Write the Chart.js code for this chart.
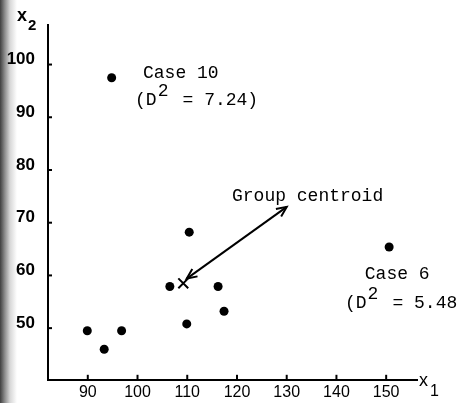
<!DOCTYPE html>
<html><head><meta charset="utf-8">
<script src="https://cdn.jsdelivr.net/npm/chart.js@4"></script>
<style>
html,body{margin:0;padding:0;background:#fff;}
#wrap{position:relative;width:460px;height:403px;
 background:linear-gradient(to right, rgba(30,30,30,0.85) 0px, rgba(70,70,70,0.6) 5px, rgba(140,140,140,0.35) 10px, rgba(255,255,255,0) 17px), #fff;}
canvas{display:block;}
</style></head><body>
<div id="wrap"><canvas id="c" width="460" height="403"></canvas></div>
<script>
// observations (x1, x2)
const x1Values = [94.8, 89.9, 93.3, 96.8, 110.4, 106.5, 116.2, 117.4, 109.9, 150.6];
const x2Values = [97.5, 49.5, 46.0, 49.5, 68.2, 57.9, 57.9, 53.2, 50.8, 65.4];
// group centroid
const centroidX1 = [109.2];
const centroidX2 = [58.5];
// double-headed arrow from centroid to label
const arrowX1 = [109.9, 130.0];
const arrowX2 = [59.4, 73.0];
// tick labels
const x1Ticks = [90, 100, 110, 120, 130, 140, 150];
const x2Ticks = [50, 60, 70, 80, 90, 100];
// annotation texts
const case10Name = 'Case 10';
const case10D2 = '7.24';
const case6Name = 'Case 6';
const case6D2 = '5.48';
const centroidLabel = 'Group centroid';

const mono = '18px "Liberation Mono", "DejaVu Sans Mono", monospace';

function drawD2(ctx, x, y, val) {
  const cw = ctx.measureText('0').width;
  ctx.fillText('(D', x, y);
  ctx.fillText('2', x + 2.1 * cw, y - 9);
  ctx.fillText(' = ' + val + ')', x + 3.4 * cw, y);
}

const decor = {
  id: 'decor',
  afterDraw(chart) {
    const ctx = chart.ctx, xs = chart.scales.x, ys = chart.scales.y;
    const a = chart.chartArea;
    ctx.save();
    ctx.strokeStyle = '#000'; ctx.fillStyle = '#000';
    ctx.lineWidth = 2;
    // tick marks (inward)
    x1Ticks.forEach(v => { const p = xs.getPixelForValue(v);
      ctx.beginPath(); ctx.moveTo(p, a.bottom); ctx.lineTo(p, a.bottom - 5); ctx.stroke(); });
    x2Ticks.forEach(v => { const p = ys.getPixelForValue(v);
      ctx.beginPath(); ctx.moveTo(a.left, p); ctx.lineTo(a.left + 4, p); ctx.stroke(); });
    // arrow heads
    const p0 = {x: xs.getPixelForValue(arrowX1[0]), y: ys.getPixelForValue(arrowX2[0])};
    const p1 = {x: xs.getPixelForValue(arrowX1[1]), y: ys.getPixelForValue(arrowX2[1])};
    const head = (tip, from) => {
      const ang = Math.atan2(tip.y - from.y, tip.x - from.x), L = 11, w = 0.42;
      ctx.beginPath();
      ctx.moveTo(tip.x - L * Math.cos(ang - w), tip.y - L * Math.sin(ang - w));
      ctx.lineTo(tip.x, tip.y);
      ctx.lineTo(tip.x - L * Math.cos(ang + w), tip.y - L * Math.sin(ang + w));
      ctx.stroke();
    };
    head(p1, p0); head(p0, p1);
    // annotations
    ctx.font = mono; ctx.textBaseline = 'alphabetic'; ctx.textAlign = 'left';
    ctx.fillText(case10Name, xs.getPixelForValue(101.1), ys.getPixelForValue(97.5));
    drawD2(ctx, xs.getPixelForValue(99.5), ys.getPixelForValue(92.3), case10D2);
    ctx.fillText(centroidLabel, xs.getPixelForValue(119.0), ys.getPixelForValue(74.2));
    ctx.fillText(case6Name, xs.getPixelForValue(145.7), ys.getPixelForValue(59.4));
    drawD2(ctx, xs.getPixelForValue(141.7), ys.getPixelForValue(53.8), case6D2);
    // axis titles
    ctx.font = 'bold 18px "Liberation Sans", Arial, sans-serif';
    ctx.fillText('x', 17, 21);
    ctx.font = 'bold 15px "Liberation Sans", Arial, sans-serif';
    ctx.fillText('2', 28, 30);
    ctx.font = '18px "Liberation Sans", Arial, sans-serif';
    ctx.fillText('x', 419, 386);
    ctx.font = '16px "Liberation Sans", Arial, sans-serif';
    ctx.fillText('1', 430, 396);
    ctx.restore();
  }
};

new Chart(document.getElementById('c'), {
  type: 'scatter',
  data: {
    datasets: [
      { label: 'cases', data: x1Values.map((v, i) => ({x: v, y: x2Values[i]})),
        pointRadius: 4.5, pointHoverRadius: 4.5, backgroundColor: '#000', borderColor: '#000', borderWidth: 0 },
      { label: 'centroid', data: centroidX1.map((v, i) => ({x: v, y: centroidX2[i]})),
        pointStyle: 'crossRot', pointRadius: 7, borderColor: '#000', borderWidth: 2, backgroundColor: '#000' },
      { label: 'arrow', data: arrowX1.map((v, i) => ({x: v, y: arrowX2[i]})),
        showLine: true, pointRadius: 0, borderColor: '#000', borderWidth: 2 }
    ]
  },
  options: {
    responsive: false, animation: false, devicePixelRatio: 1,
    layout: { padding: { left: 0, top: 25, right: 43, bottom: 0 } },
    plugins: { legend: { display: false }, tooltip: { enabled: false } },
    scales: {
      x: {
        type: 'linear', min: 82, max: 156.2,
        afterFit(s) { s.height = 21; },
        afterBuildTicks(s) { s.ticks = x1Ticks.map(v => ({value: v})); },
        grid: { display: false, drawTicks: false },
        border: { display: true, width: 2, color: '#000' },
        ticks: { padding: 3, color: '#000', maxRotation: 0, autoSkip: false,
          font: { family: '"Liberation Sans", Arial, sans-serif', size: 16 } }
      },
      y: {
        type: 'linear', min: 40.2, max: 107.5,
        afterFit(s) { s.width = 48; },
        afterBuildTicks(s) { s.ticks = x2Ticks.map(v => ({value: v})); },
        grid: { display: false, drawTicks: false },
        border: { display: true, width: 2, color: '#000' },
        ticks: { padding: 13, color: '#000', labelOffset: -5, autoSkip: false,
          font: { family: '"Liberation Sans Narrow", "Liberation Sans", Arial, sans-serif', size: 17, weight: 'bold' } }
      }
    }
  },
  plugins: [decor]
});
</script>
</body></html>
